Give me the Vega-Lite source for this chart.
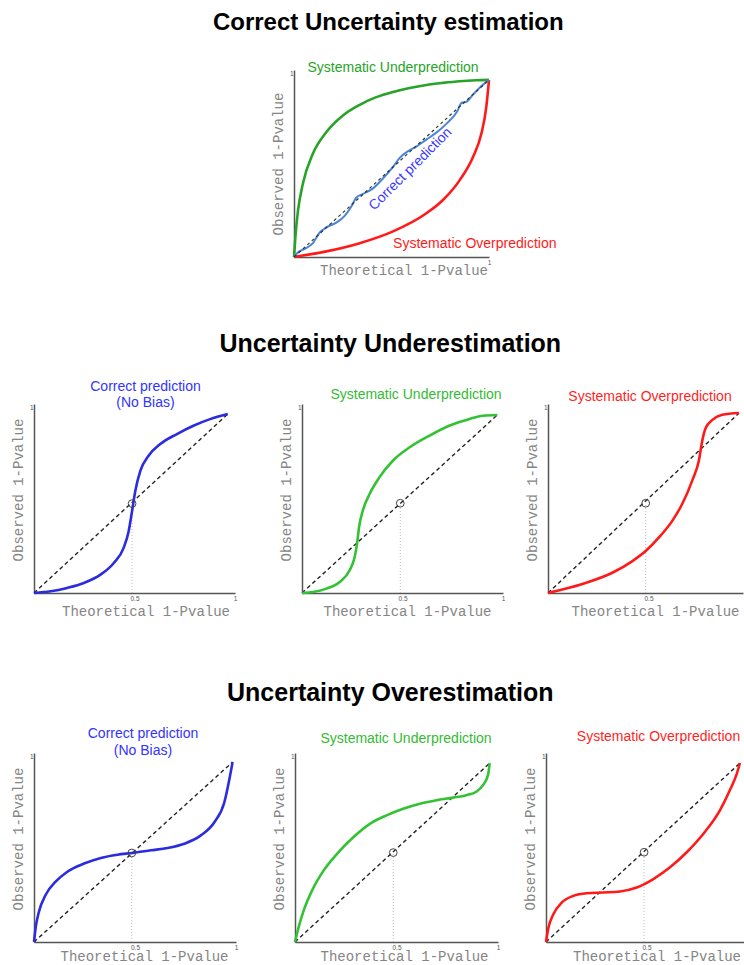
{
  "$schema": "https://vega.github.io/schema/vega-lite/v6.json",
  "background": "white",
  "padding": {"left": 11, "top": 11, "right": 0, "bottom": 0},
  "title": {"text": "Correct Uncertainty estimation", "font": "Liberation Sans", "fontSize": 24, "fontWeight": "bold", "color": "#000000", "anchor": "middle", "baseline": "alphabetic", "dx": 10, "offset": 7},
  "config": {
    "view": {"stroke": null},
    "font": "Liberation Sans",
    "title": {"font": "Liberation Sans", "fontSize": 14, "fontWeight": "normal", "baseline": "alphabetic", "anchor": "middle"},
    "axis": {"grid": false, "ticks": false, "tickSize": 0, "domainColor": "#555555", "domainWidth": 1.5, "labelFont": "Liberation Sans", "labelFontSize": 6.5, "labelColor": "#555555", "labelFlush": false, "titleFont": "Liberation Mono", "titleFontSize": 14, "titleFontWeight": "normal", "titleColor": "#858585"},
    "axisX": {"labelPadding": 2, "titlePadding": 3},
    "axisY": {"labelPadding": 1, "titlePadding": 4, "labelBaseline": "top"}
  },
  "datasets": {
    "curves": [
      {"p": "top_under", "x": 0, "y": 0}, {"p": "top_under", "x": 0.008, "y": 0.12}, {"p": "top_under", "x": 0.021, "y": 0.252}, {"p": "top_under", "x": 0.046, "y": 0.394}, {"p": "top_under", "x": 0.097, "y": 0.553}, {"p": "top_under", "x": 0.166, "y": 0.668}, {"p": "top_under", "x": 0.251, "y": 0.757}, {"p": "top_under", "x": 0.337, "y": 0.814}, {"p": "top_under", "x": 0.422, "y": 0.855}, {"p": "top_under", "x": 0.508, "y": 0.883}, {"p": "top_under", "x": 0.593, "y": 0.904}, {"p": "top_under", "x": 0.679, "y": 0.92}, {"p": "top_under", "x": 0.764, "y": 0.931}, {"p": "top_under", "x": 0.85, "y": 0.94}, {"p": "top_under", "x": 0.935, "y": 0.945}, {"p": "top_under", "x": 1, "y": 0.947},
      {"p": "top_over", "x": 0, "y": 0}, {"p": "top_over", "x": 0.166, "y": 0.03}, {"p": "top_over", "x": 0.337, "y": 0.074}, {"p": "top_over", "x": 0.508, "y": 0.137}, {"p": "top_over", "x": 0.679, "y": 0.234}, {"p": "top_over", "x": 0.764, "y": 0.305}, {"p": "top_over", "x": 0.85, "y": 0.411}, {"p": "top_over", "x": 0.918, "y": 0.535}, {"p": "top_over", "x": 0.961, "y": 0.66}, {"p": "top_over", "x": 0.986, "y": 0.801}, {"p": "top_over", "x": 1, "y": 0.947},
      {"p": "top_ok", "x": 0, "y": 0}, {"p": "top_ok", "x": 0.021, "y": 0.025}, {"p": "top_ok", "x": 0.055, "y": 0.044}, {"p": "top_ok", "x": 0.097, "y": 0.074}, {"p": "top_ok", "x": 0.132, "y": 0.131}, {"p": "top_ok", "x": 0.166, "y": 0.158}, {"p": "top_ok", "x": 0.217, "y": 0.184}, {"p": "top_ok", "x": 0.26, "y": 0.22}, {"p": "top_ok", "x": 0.294, "y": 0.27}, {"p": "top_ok", "x": 0.32, "y": 0.318}, {"p": "top_ok", "x": 0.354, "y": 0.337}, {"p": "top_ok", "x": 0.405, "y": 0.367}, {"p": "top_ok", "x": 0.456, "y": 0.42}, {"p": "top_ok", "x": 0.508, "y": 0.482}, {"p": "top_ok", "x": 0.542, "y": 0.53}, {"p": "top_ok", "x": 0.585, "y": 0.566}, {"p": "top_ok", "x": 0.627, "y": 0.59}, {"p": "top_ok", "x": 0.679, "y": 0.628}, {"p": "top_ok", "x": 0.73, "y": 0.665}, {"p": "top_ok", "x": 0.781, "y": 0.712}, {"p": "top_ok", "x": 0.835, "y": 0.775}, {"p": "top_ok", "x": 0.86, "y": 0.825}, {"p": "top_ok", "x": 0.884, "y": 0.83}, {"p": "top_ok", "x": 0.918, "y": 0.868}, {"p": "top_ok", "x": 0.952, "y": 0.905}, {"p": "top_ok", "x": 1, "y": 0.947},
      {"p": "u1", "x": 0, "y": 0}, {"p": "u1", "x": 0.083, "y": 0.009}, {"p": "u1", "x": 0.165, "y": 0.027}, {"p": "u1", "x": 0.248, "y": 0.053}, {"p": "u1", "x": 0.331, "y": 0.097}, {"p": "u1", "x": 0.397, "y": 0.159}, {"p": "u1", "x": 0.446, "y": 0.239}, {"p": "u1", "x": 0.471, "y": 0.327}, {"p": "u1", "x": 0.488, "y": 0.434}, {"p": "u1", "x": 0.504, "y": 0.54}, {"p": "u1", "x": 0.529, "y": 0.646}, {"p": "u1", "x": 0.57, "y": 0.726}, {"p": "u1", "x": 0.628, "y": 0.788}, {"p": "u1", "x": 0.711, "y": 0.841}, {"p": "u1", "x": 0.793, "y": 0.885}, {"p": "u1", "x": 0.876, "y": 0.92}, {"p": "u1", "x": 0.964, "y": 0.947},
      {"p": "u2", "x": 0, "y": 0}, {"p": "u2", "x": 0.055, "y": 0.005}, {"p": "u2", "x": 0.121, "y": 0.023}, {"p": "u2", "x": 0.187, "y": 0.058}, {"p": "u2", "x": 0.237, "y": 0.12}, {"p": "u2", "x": 0.262, "y": 0.19}, {"p": "u2", "x": 0.274, "y": 0.261}, {"p": "u2", "x": 0.284, "y": 0.349}, {"p": "u2", "x": 0.303, "y": 0.437}, {"p": "u2", "x": 0.337, "y": 0.525}, {"p": "u2", "x": 0.386, "y": 0.613}, {"p": "u2", "x": 0.453, "y": 0.701}, {"p": "u2", "x": 0.536, "y": 0.771}, {"p": "u2", "x": 0.635, "y": 0.833}, {"p": "u2", "x": 0.735, "y": 0.886}, {"p": "u2", "x": 0.834, "y": 0.921}, {"p": "u2", "x": 0.9, "y": 0.938}, {"p": "u2", "x": 0.972, "y": 0.942},
      {"p": "u3", "x": 0, "y": 0}, {"p": "u3", "x": 0.071, "y": 0.018}, {"p": "u3", "x": 0.187, "y": 0.053}, {"p": "u3", "x": 0.32, "y": 0.107}, {"p": "u3", "x": 0.42, "y": 0.169}, {"p": "u3", "x": 0.486, "y": 0.222}, {"p": "u3", "x": 0.552, "y": 0.294}, {"p": "u3", "x": 0.619, "y": 0.383}, {"p": "u3", "x": 0.668, "y": 0.472}, {"p": "u3", "x": 0.718, "y": 0.596}, {"p": "u3", "x": 0.751, "y": 0.703}, {"p": "u3", "x": 0.768, "y": 0.81}, {"p": "u3", "x": 0.784, "y": 0.872}, {"p": "u3", "x": 0.818, "y": 0.916}, {"p": "u3", "x": 0.867, "y": 0.943}, {"p": "u3", "x": 0.95, "y": 0.952},
      {"p": "o1", "x": 0, "y": 0}, {"p": "o1", "x": 0.008, "y": 0.075}, {"p": "o1", "x": 0.025, "y": 0.162}, {"p": "o1", "x": 0.058, "y": 0.25}, {"p": "o1", "x": 0.107, "y": 0.319}, {"p": "o1", "x": 0.165, "y": 0.372}, {"p": "o1", "x": 0.248, "y": 0.415}, {"p": "o1", "x": 0.331, "y": 0.445}, {"p": "o1", "x": 0.413, "y": 0.462}, {"p": "o1", "x": 0.484, "y": 0.471}, {"p": "o1", "x": 0.579, "y": 0.485}, {"p": "o1", "x": 0.661, "y": 0.497}, {"p": "o1", "x": 0.744, "y": 0.52}, {"p": "o1", "x": 0.826, "y": 0.564}, {"p": "o1", "x": 0.893, "y": 0.634}, {"p": "o1", "x": 0.942, "y": 0.738}, {"p": "o1", "x": 0.967, "y": 0.86}, {"p": "o1", "x": 0.983, "y": 0.952},
      {"p": "o2", "x": 0, "y": 0}, {"p": "o2", "x": 0.016, "y": 0.071}, {"p": "o2", "x": 0.041, "y": 0.161}, {"p": "o2", "x": 0.082, "y": 0.268}, {"p": "o2", "x": 0.139, "y": 0.375}, {"p": "o2", "x": 0.205, "y": 0.464}, {"p": "o2", "x": 0.287, "y": 0.554}, {"p": "o2", "x": 0.369, "y": 0.625}, {"p": "o2", "x": 0.451, "y": 0.67}, {"p": "o2", "x": 0.533, "y": 0.705}, {"p": "o2", "x": 0.615, "y": 0.732}, {"p": "o2", "x": 0.697, "y": 0.75}, {"p": "o2", "x": 0.779, "y": 0.764}, {"p": "o2", "x": 0.844, "y": 0.777}, {"p": "o2", "x": 0.893, "y": 0.795}, {"p": "o2", "x": 0.926, "y": 0.83}, {"p": "o2", "x": 0.951, "y": 0.884}, {"p": "o2", "x": 0.959, "y": 0.946},
      {"p": "o3", "x": 0, "y": 0}, {"p": "o3", "x": 0.012, "y": 0.075}, {"p": "o3", "x": 0.036, "y": 0.146}, {"p": "o3", "x": 0.078, "y": 0.208}, {"p": "o3", "x": 0.136, "y": 0.244}, {"p": "o3", "x": 0.202, "y": 0.258}, {"p": "o3", "x": 0.285, "y": 0.262}, {"p": "o3", "x": 0.368, "y": 0.267}, {"p": "o3", "x": 0.451, "y": 0.288}, {"p": "o3", "x": 0.534, "y": 0.333}, {"p": "o3", "x": 0.617, "y": 0.395}, {"p": "o3", "x": 0.7, "y": 0.475}, {"p": "o3", "x": 0.783, "y": 0.573}, {"p": "o3", "x": 0.866, "y": 0.698}, {"p": "o3", "x": 0.915, "y": 0.804}, {"p": "o3", "x": 0.949, "y": 0.89}, {"p": "o3", "x": 0.965, "y": 0.947}
    ],
    "diag": [
      {"p": "top", "x": 0, "y": 0}, {"p": "top", "x": 1, "y": 0.947},
      {"p": "u1", "x": 0, "y": 0}, {"p": "u1", "x": 0.964, "y": 0.947},
      {"p": "u2", "x": 0, "y": 0}, {"p": "u2", "x": 0.972, "y": 0.942},
      {"p": "u3", "x": 0, "y": 0}, {"p": "u3", "x": 0.95, "y": 0.952},
      {"p": "o1", "x": 0, "y": 0}, {"p": "o1", "x": 0.983, "y": 0.952},
      {"p": "o2", "x": 0, "y": 0}, {"p": "o2", "x": 0.959, "y": 0.946},
      {"p": "o3", "x": 0, "y": 0}, {"p": "o3", "x": 0.965, "y": 0.947}
    ],
    "pt": [
      {"p": "u1", "x": 0.488, "y": 0.473},
      {"p": "u2", "x": 0.489, "y": 0.475},
      {"p": "u3", "x": 0.486, "y": 0.475},
      {"p": "o1", "x": 0.484, "y": 0.471},
      {"p": "o2", "x": 0.484, "y": 0.473},
      {"p": "o3", "x": 0.488, "y": 0.475}
    ]
  },
  "spacing": 54,
  "vconcat": [
    {
      "spacing": 1,
      "hconcat": [
        {"width": 236, "height": 10, "data": {"values": []}, "mark": "point"},
        {
          "width": 195, "height": 187,
          "layer": [
            {"data": {"name": "curves"}, "transform": [{"filter": "datum.p === 'top_under'"}], "mark": {"type": "line", "color": "#27a327", "strokeWidth": 2.6, "interpolate": "monotone"},
             "encoding": {
               "x": {"field": "x", "type": "quantitative", "scale": {"domain": [0, 1], "nice": false}, "axis": {"title": "Theoretical 1-Pvalue", "values": [1], "format": "~g", "titlePadding": -2, "titleX": 109.5}},
               "y": {"field": "y", "type": "quantitative", "scale": {"domain": [0, 1], "nice": false}, "axis": {"title": "Observed 1-Pvalue", "values": [1], "format": "~g"}}
             }},
            {"data": {"name": "curves"}, "transform": [{"filter": "datum.p === 'top_over'"}], "mark": {"type": "line", "color": "#ff1a1a", "strokeWidth": 2.6, "interpolate": "monotone"},
             "encoding": {"x": {"field": "x", "type": "quantitative"}, "y": {"field": "y", "type": "quantitative"}}},
            {"data": {"name": "curves"}, "transform": [{"filter": "datum.p === 'top_ok'"}], "mark": {"type": "line", "color": "#4a86d6", "strokeWidth": 2, "interpolate": "monotone"},
             "encoding": {"x": {"field": "x", "type": "quantitative"}, "y": {"field": "y", "type": "quantitative"}}},
            {"data": {"name": "diag"}, "transform": [{"filter": "datum.p === 'top'"}], "mark": {"type": "line", "color": "#333333", "strokeDash": [3, 3], "strokeWidth": 1.2},
             "encoding": {"x": {"field": "x", "type": "quantitative"}, "y": {"field": "y", "type": "quantitative"}}},
            {"data": {"values": [{"label": "Systematic Underprediction"}]}, "mark": {"type": "text", "color": "#27a327", "fontSize": 14, "font": "Liberation Sans", "align": "center", "baseline": "alphabetic"},
             "encoding": {"x": {"datum": 0.508, "type": "quantitative"}, "y": {"datum": 0.989, "type": "quantitative"}, "text": {"field": "label", "type": "nominal"}}},
            {"data": {"values": [{"label": "Systematic Overprediction"}]}, "mark": {"type": "text", "color": "#ff1a1a", "fontSize": 14, "font": "Liberation Sans", "align": "left", "baseline": "alphabetic"},
             "encoding": {"x": {"datum": 0.508, "type": "quantitative"}, "y": {"datum": 0.048, "type": "quantitative"}, "text": {"field": "label", "type": "nominal"}}},
            {"data": {"values": [{"label": "Correct prediction"}]}, "mark": {"type": "text", "color": "#3a3aff", "fontSize": 14, "font": "Liberation Sans", "align": "center", "baseline": "middle", "angle": 315},
             "encoding": {"x": {"datum": 0.598, "type": "quantitative"}, "y": {"datum": 0.47, "type": "quantitative"}, "text": {"field": "label", "type": "nominal"}}}
          ]
        }
      ]
    },
    {
      "title": {"text": "Uncertainty Underestimation", "font": "Liberation Sans", "fontSize": 25, "fontWeight": "bold", "color": "#000000", "anchor": "middle", "baseline": "alphabetic", "dx": 12.5, "offset": 3},
      "spacing": 20,
      "hconcat": [
        {
          "spacing": 42,
          "hconcat": [
            {
              "width": 201, "height": 189,
              "title": {"text": ["Correct prediction", "(No Bias)"], "color": "#3333ff", "lineHeight": 16, "offset": -6, "dx": 11},
              "encoding": {
                "x": {"field": "x", "type": "quantitative", "scale": {"domain": [0, 1], "nice": false}, "axis": {"title": "Theoretical 1-Pvalue", "values": [0.5, 1], "format": "~g", "titleX": 111.5}},
                "y": {"field": "y", "type": "quantitative", "scale": {"domain": [0, 1], "nice": false}, "axis": {"title": "Observed 1-Pvalue", "values": [1], "format": "~g", "titleY": 85.5}}
              },
              "layer": [
                {"data": {"name": "diag"}, "transform": [{"filter": "datum.p === 'u1'"}], "mark": {"type": "line", "color": "#222222", "strokeDash": [4, 3], "strokeWidth": 1.4}},
                {"data": {"name": "pt"}, "transform": [{"filter": "datum.p === 'u1'"}], "mark": {"type": "rule", "color": "#bbbbbb", "strokeDash": [1, 2], "strokeWidth": 1}, "encoding": {"y": {"datum": 0, "type": "quantitative"}, "y2": {"field": "y"}}},
                {"data": {"name": "curves"}, "transform": [{"filter": "datum.p === 'u1'"}], "mark": {"type": "line", "color": "#2b2be0", "strokeWidth": 2.6, "interpolate": "monotone"}},
                {"data": {"name": "pt"}, "transform": [{"filter": "datum.p === 'u1'"}], "mark": {"type": "point", "shape": "circle", "size": 60, "filled": false, "color": "#444444", "strokeWidth": 1, "opacity": 1}}
              ]
            },
            {
              "width": 201, "height": 189,
              "title": {"text": "Systematic Underprediction", "color": "#33bb33", "offset": 2, "dx": 13.5},
              "encoding": {
                "x": {"field": "x", "type": "quantitative", "scale": {"domain": [0, 1], "nice": false}, "axis": {"title": "Theoretical 1-Pvalue", "values": [0.5, 1], "format": "~g", "titleX": 105}},
                "y": {"field": "y", "type": "quantitative", "scale": {"domain": [0, 1], "nice": false}, "axis": {"title": "Observed 1-Pvalue", "values": [1], "format": "~g", "titleY": 85.5}}
              },
              "layer": [
                {"data": {"name": "diag"}, "transform": [{"filter": "datum.p === 'u2'"}], "mark": {"type": "line", "color": "#222222", "strokeDash": [4, 3], "strokeWidth": 1.4}},
                {"data": {"name": "pt"}, "transform": [{"filter": "datum.p === 'u2'"}], "mark": {"type": "rule", "color": "#bbbbbb", "strokeDash": [1, 2], "strokeWidth": 1}, "encoding": {"y": {"datum": 0, "type": "quantitative"}, "y2": {"field": "y"}}},
                {"data": {"name": "curves"}, "transform": [{"filter": "datum.p === 'u2'"}], "mark": {"type": "line", "color": "#33c233", "strokeWidth": 2.6, "interpolate": "monotone"}},
                {"data": {"name": "pt"}, "transform": [{"filter": "datum.p === 'u2'"}], "mark": {"type": "point", "shape": "circle", "size": 60, "filled": false, "color": "#444444", "strokeWidth": 1, "opacity": 1}}
              ]
            }
          ]
        },
        {
          "width": 195, "height": 189,
          "title": {"text": "Systematic Overprediction", "color": "#ff1f1f", "offset": 0, "dx": 4.5},
          "encoding": {
            "x": {"field": "x", "type": "quantitative", "scale": {"domain": [0, 0.97], "nice": false}, "axis": {"title": "Theoretical 1-Pvalue", "values": [0.5], "format": "~g", "titleX": 107}},
            "y": {"field": "y", "type": "quantitative", "scale": {"domain": [0, 1], "nice": false}, "axis": {"title": "Observed 1-Pvalue", "values": [1], "format": "~g", "titleY": 85.5}}
          },
          "layer": [
            {"data": {"name": "diag"}, "transform": [{"filter": "datum.p === 'u3'"}], "mark": {"type": "line", "color": "#222222", "strokeDash": [4, 3], "strokeWidth": 1.4}},
            {"data": {"name": "pt"}, "transform": [{"filter": "datum.p === 'u3'"}], "mark": {"type": "rule", "color": "#bbbbbb", "strokeDash": [1, 2], "strokeWidth": 1}, "encoding": {"y": {"datum": 0, "type": "quantitative"}, "y2": {"field": "y"}}},
            {"data": {"name": "curves"}, "transform": [{"filter": "datum.p === 'u3'"}], "mark": {"type": "line", "color": "#ff1a1a", "strokeWidth": 2.6, "interpolate": "monotone"}},
            {"data": {"name": "pt"}, "transform": [{"filter": "datum.p === 'u3'"}], "mark": {"type": "point", "shape": "circle", "size": 60, "filled": false, "color": "#444444", "strokeWidth": 1, "opacity": 1}}
          ]
        }
      ]
    },
    {
      "title": {"text": ["", "Uncertainty Overestimation"], "lineHeight": 8, "font": "Liberation Sans", "fontSize": 25, "fontWeight": "bold", "color": "#000000", "anchor": "middle", "baseline": "alphabetic", "dx": 12, "offset": 1},
      "spacing": 23,
      "hconcat": [
        {
          "spacing": 34,
          "hconcat": [
            {
              "width": 202, "height": 189,
              "title": {"text": ["Correct prediction", "(No Bias)"], "color": "#3333ff", "lineHeight": 17, "offset": -5, "dx": 8},
              "encoding": {
                "x": {"field": "x", "type": "quantitative", "scale": {"domain": [0, 1], "nice": false}, "axis": {"title": "Theoretical 1-Pvalue", "values": [0.5, 1], "format": "~g", "titleX": 110, "titlePadding": -1}},
                "y": {"field": "y", "type": "quantitative", "scale": {"domain": [0, 1], "nice": false}, "axis": {"title": "Observed 1-Pvalue", "values": [1], "format": "~g", "titleY": 85.5}}
              },
              "layer": [
                {"data": {"name": "diag"}, "transform": [{"filter": "datum.p === 'o1'"}], "mark": {"type": "line", "color": "#222222", "strokeDash": [4, 3], "strokeWidth": 1.4}},
                {"data": {"name": "pt"}, "transform": [{"filter": "datum.p === 'o1'"}], "mark": {"type": "rule", "color": "#bbbbbb", "strokeDash": [1, 2], "strokeWidth": 1}, "encoding": {"y": {"datum": 0, "type": "quantitative"}, "y2": {"field": "y"}}},
                {"data": {"name": "curves"}, "transform": [{"filter": "datum.p === 'o1'"}], "mark": {"type": "line", "color": "#2b2be0", "strokeWidth": 2.6, "interpolate": "monotone"}},
                {"data": {"name": "pt"}, "transform": [{"filter": "datum.p === 'o1'"}], "mark": {"type": "point", "shape": "circle", "size": 60, "filled": false, "color": "#444444", "strokeWidth": 1, "opacity": 1}}
              ]
            },
            {
              "width": 203, "height": 189,
              "title": {"text": "Systematic Underprediction", "color": "#33bb33", "offset": 7, "dx": 9.5},
              "encoding": {
                "x": {"field": "x", "type": "quantitative", "scale": {"domain": [0, 1], "nice": false}, "axis": {"title": "Theoretical 1-Pvalue", "values": [0.5, 1], "format": "~g", "titleX": 109, "titlePadding": -1}},
                "y": {"field": "y", "type": "quantitative", "scale": {"domain": [0, 1], "nice": false}, "axis": {"title": "Observed 1-Pvalue", "values": [1], "format": "~g", "titleY": 85.5}}
              },
              "layer": [
                {"data": {"name": "diag"}, "transform": [{"filter": "datum.p === 'o2'"}], "mark": {"type": "line", "color": "#222222", "strokeDash": [4, 3], "strokeWidth": 1.4}},
                {"data": {"name": "pt"}, "transform": [{"filter": "datum.p === 'o2'"}], "mark": {"type": "rule", "color": "#bbbbbb", "strokeDash": [1, 2], "strokeWidth": 1}, "encoding": {"y": {"datum": 0, "type": "quantitative"}, "y2": {"field": "y"}}},
                {"data": {"name": "curves"}, "transform": [{"filter": "datum.p === 'o2'"}], "mark": {"type": "line", "color": "#33c233", "strokeWidth": 2.6, "interpolate": "monotone"}},
                {"data": {"name": "pt"}, "transform": [{"filter": "datum.p === 'o2'"}], "mark": {"type": "point", "shape": "circle", "size": 60, "filled": false, "color": "#444444", "strokeWidth": 1, "opacity": 1}}
              ]
            }
          ]
        },
        {
          "width": 198, "height": 189,
          "title": {"text": "Systematic Overprediction", "color": "#ff1f1f", "offset": 9, "dx": 13.5},
          "encoding": {
            "x": {"field": "x", "type": "quantitative", "scale": {"domain": [0, 0.985], "nice": false}, "axis": {"title": "Theoretical 1-Pvalue", "values": [0.5], "format": "~g", "titleX": 110.5, "titlePadding": -1}},
            "y": {"field": "y", "type": "quantitative", "scale": {"domain": [0, 1], "nice": false}, "axis": {"title": "Observed 1-Pvalue", "values": [1], "format": "~g", "titleY": 85.5}}
          },
          "layer": [
            {"data": {"name": "diag"}, "transform": [{"filter": "datum.p === 'o3'"}], "mark": {"type": "line", "color": "#222222", "strokeDash": [4, 3], "strokeWidth": 1.4}},
            {"data": {"name": "pt"}, "transform": [{"filter": "datum.p === 'o3'"}], "mark": {"type": "rule", "color": "#bbbbbb", "strokeDash": [1, 2], "strokeWidth": 1}, "encoding": {"y": {"datum": 0, "type": "quantitative"}, "y2": {"field": "y"}}},
            {"data": {"name": "curves"}, "transform": [{"filter": "datum.p === 'o3'"}], "mark": {"type": "line", "color": "#ff1a1a", "strokeWidth": 2.6, "interpolate": "monotone"}},
            {"data": {"name": "pt"}, "transform": [{"filter": "datum.p === 'o3'"}], "mark": {"type": "point", "shape": "circle", "size": 60, "filled": false, "color": "#444444", "strokeWidth": 1, "opacity": 1}}
          ]
        }
      ]
    }
  ]
}
